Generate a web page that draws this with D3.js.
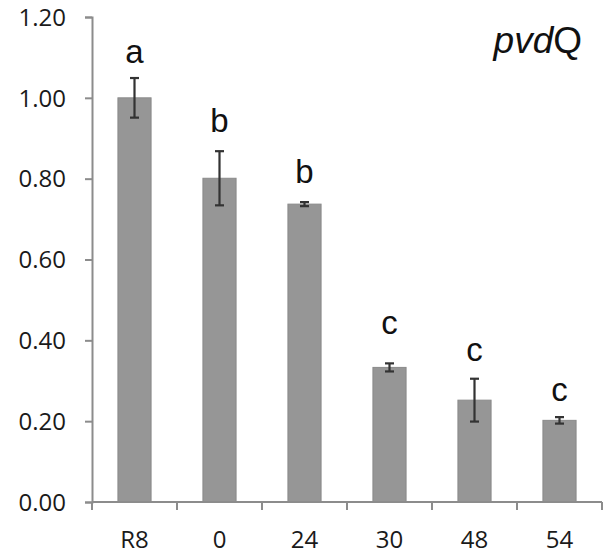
<!DOCTYPE html>
<html><head><meta charset="utf-8">
<script src="https://cdnjs.cloudflare.com/ajax/libs/d3/7.8.5/d3.min.js"></script>
<style>body{margin:0;background:#fff}svg{display:block}</style>
</head><body><svg id="c" width="607" height="558"></svg>
<script>
const categories = ["R8","0","24","30","48","54"];
const values = [1.00, 0.801, 0.737, 0.333, 0.252, 0.202];
const errors = [0.049, 0.067, 0.005, 0.010, 0.053, 0.008];
const letters = ["a","b","b","c","c","c"];
const letterHeights = [1.086, 0.915, 0.789, 0.416, 0.349, 0.251];
const yTicks = [0, 0.2, 0.4, 0.6, 0.8, 1.0, 1.2];

(function(){
const svg = d3.select("#c");
const mL = 92, mR = 602, mT = 17, mB = 502;
const x = d3.scaleBand().domain(categories).range([mL, mR]).paddingInner(0.61).paddingOuter(0.305);
const y = d3.scaleLinear().domain([0, 1.2]).range([mB, mT]);

const axisColor = "#8c8c8c";
const tickFont = "'Open Sans', 'Liberation Sans', sans-serif";

// y axis
const ya = svg.append("g").attr("transform", `translate(${mL},0)`)
  .call(d3.axisLeft(y).tickValues(yTicks).tickFormat(d3.format(".2f")).tickSize(7).tickPadding(19));
ya.select(".domain").attr("stroke", axisColor).attr("stroke-width", 2);
ya.selectAll(".tick line").attr("stroke", axisColor).attr("stroke-width", 2);
ya.selectAll(".tick text").attr("fill", "#1a1a1a").style("font-family", tickFont).style("font-size", "24px").attr("dy", "0.34em");

// bars
svg.append("g").selectAll("rect").data(categories).join("rect")
  .attr("x", d => x(d)).attr("width", x.bandwidth())
  .attr("y", (d,i) => y(values[i])).attr("height", (d,i) => y(0) - y(values[i]))
  .attr("fill", "#969696").attr("stroke", "#8a8a8a").attr("stroke-width", 1);

// x axis (ticks between categories)
const step = x.step();
const boundaries = d3.range(categories.length + 1).map(i => mL + i * step);
const xa = svg.append("g");
xa.append("line").attr("x1", mL).attr("x2", mR).attr("y1", mB).attr("y2", mB)
  .attr("stroke", axisColor).attr("stroke-width", 2);
xa.selectAll("line.t").data(boundaries).join("line").attr("class","t")
  .attr("x1", d => d).attr("x2", d => d).attr("y1", mB).attr("y2", mB + 8)
  .attr("stroke", axisColor).attr("stroke-width", 2);
xa.selectAll("text").data(categories).join("text")
  .attr("x", d => x(d) + x.bandwidth()/2).attr("y", 548)
  .attr("text-anchor", "middle").attr("fill", "#1a1a1a")
  .style("font-family", tickFont).style("font-size", "24px").text(d => d);

// error bars
const eb = svg.append("g").attr("stroke", "#333").attr("stroke-width", 2.2);
categories.forEach((c, i) => {
  const cx = x(c) + x.bandwidth()/2;
  const y1 = y(values[i] + errors[i]), y2 = y(values[i] - errors[i]);
  eb.append("line").attr("x1", cx).attr("x2", cx).attr("y1", y1).attr("y2", y2);
  eb.append("line").attr("x1", cx-4.5).attr("x2", cx+4.5).attr("y1", y1).attr("y2", y1);
  eb.append("line").attr("x1", cx-4.5).attr("x2", cx+4.5).attr("y1", y2).attr("y2", y2);
});

// letters
svg.append("g").selectAll("text").data(categories).join("text")
  .attr("x", d => x(d) + x.bandwidth()/2)
  .attr("y", (d,i) => y(letterHeights[i]))
  .attr("text-anchor", "middle").attr("fill", "#111")
  .style("font-family", "'Liberation Sans', Arial, sans-serif").style("font-size", "33px")
  .text((d,i) => letters[i]);

// gene label
const t = svg.append("text").attr("x", 582).attr("y", 53).attr("text-anchor", "end")
  .attr("fill", "#111").style("font-family", "'Liberation Sans', Arial, sans-serif").style("font-size", "37px");
t.append("tspan").style("font-style", "italic").text("pvd");
t.append("tspan").text("Q");
})();
</script></body></html>
